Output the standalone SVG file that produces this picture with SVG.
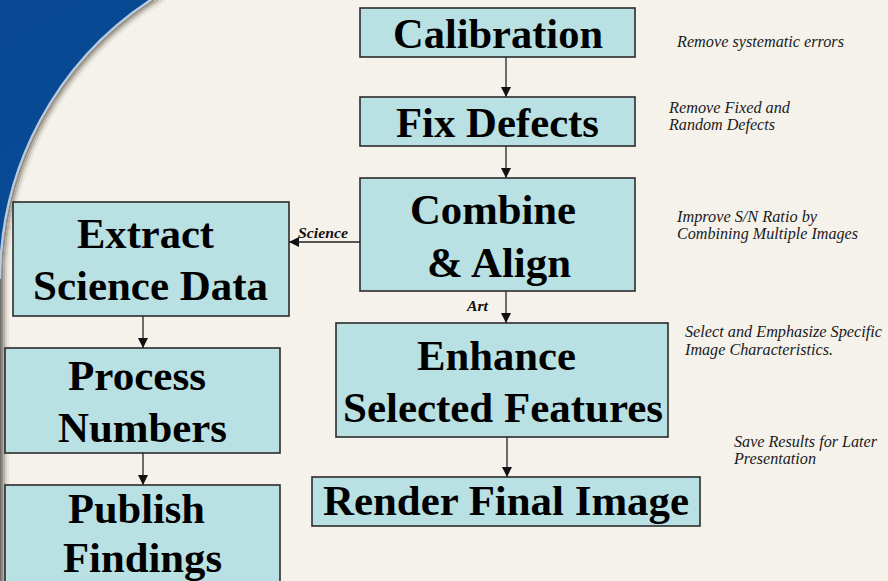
<svg xmlns="http://www.w3.org/2000/svg" width="888" height="581" viewBox="0 0 888 581">
  <defs>
    <marker id="head" markerUnits="userSpaceOnUse" markerWidth="10" markerHeight="10" refX="10" refY="5" orient="auto">
      <path d="M0,0 L10,5 L0,10 z" fill="#111"/>
    </marker>
    <linearGradient id="blueFill" x1="0" y1="0" x2="1" y2="1">
      <stop offset="0" stop-color="#084892"/>
      <stop offset="1" stop-color="#0b53a2"/>
    </linearGradient>
  </defs>

  <!-- backdrop: blue corner, light panel, soft edge shading -->
  <rect x="0" y="0" width="888" height="581" fill="url(#blueFill)"/>
  <path d="M888 0 L150.4 0 A334 334 0 0 0 0 279 L0 581 L888 581 Z" fill="#f5f2ec"/>
  <g fill="none" stroke-width="2.2">
    <path d="M154 0 A332 332 0 0 0 2 279 L2 581" stroke="#958d80"/>
    <path d="M157.8 0 A330 330 0 0 0 4 279 L4 581" stroke="#b3ada1"/>
    <path d="M161.5 0 A328 328 0 0 0 6 279 L6 581" stroke="#d3cfc6"/>
    <path d="M165.4 0 A326 326 0 0 0 8 279 L8 581" stroke="#e9e6df"/>
    <path d="M0 279 L0 581" stroke="#6c6c6c" stroke-width="2.4"/>
    <path d="M150.4 0 A334 334 0 0 0 0 279" stroke="#b4cbe3"/>
  </g>

  <!-- connectors -->
  <g id="connectors" stroke="#222" stroke-width="1.3" fill="none" marker-end="url(#head)">
    <line x1="506" y1="57" x2="506" y2="97"/>
    <line x1="506" y1="146" x2="506" y2="178"/>
    <line x1="506" y1="291" x2="506" y2="323"/>
    <line x1="507" y1="437" x2="507" y2="477"/>
    <line x1="360" y1="242" x2="289" y2="242"/>
    <line x1="143" y1="316" x2="143" y2="348"/>
    <line x1="143" y1="453" x2="143" y2="485"/>
  </g>
  <text x="298" y="238" font-family="Liberation Serif, Tinos, Times New Roman, Nimbus Roman, FreeSerif, DejaVu Serif, serif" font-style="italic" font-weight="bold" font-size="15.5" fill="#111" textLength="50" lengthAdjust="spacingAndGlyphs">Science</text>
  <text x="467" y="311" font-family="Liberation Serif, Tinos, Times New Roman, Nimbus Roman, FreeSerif, DejaVu Serif, serif" font-style="italic" font-weight="bold" font-size="15.5" fill="#111" textLength="21" lengthAdjust="spacingAndGlyphs">Art</text>

  <!-- process steps -->
  <g id="calibration">
    <rect x="360" y="8" width="275" height="49" fill="#b9e0e3" stroke="#2b2b2b" stroke-width="1.6"/>
    <text x="498" y="48" font-family="Liberation Serif, Tinos, Times New Roman, Nimbus Roman, FreeSerif, DejaVu Serif, serif" font-weight="bold" font-size="42" text-anchor="middle" textLength="210" lengthAdjust="spacingAndGlyphs">Calibration</text>
  </g>
  <g id="fix-defects">
    <rect x="360" y="97" width="275" height="49" fill="#b9e0e3" stroke="#2b2b2b" stroke-width="1.6"/>
    <text x="497.5" y="137" font-family="Liberation Serif, Tinos, Times New Roman, Nimbus Roman, FreeSerif, DejaVu Serif, serif" font-weight="bold" font-size="42" text-anchor="middle" textLength="203" lengthAdjust="spacingAndGlyphs">Fix Defects</text>
  </g>
  <g id="combine-align">
    <rect x="360" y="178" width="275" height="113" fill="#b9e0e3" stroke="#2b2b2b" stroke-width="1.6"/>
    <text x="493" y="224" font-family="Liberation Serif, Tinos, Times New Roman, Nimbus Roman, FreeSerif, DejaVu Serif, serif" font-weight="bold" font-size="42" text-anchor="middle" textLength="166" lengthAdjust="spacingAndGlyphs">Combine</text>
    <text x="499" y="277" font-family="Liberation Serif, Tinos, Times New Roman, Nimbus Roman, FreeSerif, DejaVu Serif, serif" font-weight="bold" font-size="42" text-anchor="middle" textLength="144" lengthAdjust="spacingAndGlyphs">&amp; Align</text>
  </g>
  <g id="extract-science">
    <rect x="13" y="202" width="276" height="114" fill="#b9e0e3" stroke="#2b2b2b" stroke-width="1.6"/>
    <text x="145.5" y="248" font-family="Liberation Serif, Tinos, Times New Roman, Nimbus Roman, FreeSerif, DejaVu Serif, serif" font-weight="bold" font-size="42" text-anchor="middle" textLength="137" lengthAdjust="spacingAndGlyphs">Extract</text>
    <text x="150.5" y="300" font-family="Liberation Serif, Tinos, Times New Roman, Nimbus Roman, FreeSerif, DejaVu Serif, serif" font-weight="bold" font-size="42" text-anchor="middle" textLength="235" lengthAdjust="spacingAndGlyphs">Science Data</text>
  </g>
  <g id="process-numbers">
    <rect x="5" y="348" width="275" height="105" fill="#b9e0e3" stroke="#2b2b2b" stroke-width="1.6"/>
    <text x="137" y="390" font-family="Liberation Serif, Tinos, Times New Roman, Nimbus Roman, FreeSerif, DejaVu Serif, serif" font-weight="bold" font-size="42" text-anchor="middle" textLength="138" lengthAdjust="spacingAndGlyphs">Process</text>
    <text x="142.5" y="442" font-family="Liberation Serif, Tinos, Times New Roman, Nimbus Roman, FreeSerif, DejaVu Serif, serif" font-weight="bold" font-size="42" text-anchor="middle" textLength="169" lengthAdjust="spacingAndGlyphs">Numbers</text>
  </g>
  <g id="publish-findings">
    <rect x="5" y="485" width="275" height="110" fill="#b9e0e3" stroke="#2b2b2b" stroke-width="1.6"/>
    <text x="136.5" y="523" font-family="Liberation Serif, Tinos, Times New Roman, Nimbus Roman, FreeSerif, DejaVu Serif, serif" font-weight="bold" font-size="42" text-anchor="middle" textLength="137" lengthAdjust="spacingAndGlyphs">Publish</text>
    <text x="142.5" y="572" font-family="Liberation Serif, Tinos, Times New Roman, Nimbus Roman, FreeSerif, DejaVu Serif, serif" font-weight="bold" font-size="42" text-anchor="middle" textLength="159" lengthAdjust="spacingAndGlyphs">Findings</text>
  </g>
  <g id="enhance-features">
    <rect x="336" y="323" width="332" height="114" fill="#b9e0e3" stroke="#2b2b2b" stroke-width="1.6"/>
    <text x="496.5" y="370" font-family="Liberation Serif, Tinos, Times New Roman, Nimbus Roman, FreeSerif, DejaVu Serif, serif" font-weight="bold" font-size="42" text-anchor="middle" textLength="159" lengthAdjust="spacingAndGlyphs">Enhance</text>
    <text x="503" y="422" font-family="Liberation Serif, Tinos, Times New Roman, Nimbus Roman, FreeSerif, DejaVu Serif, serif" font-weight="bold" font-size="42" text-anchor="middle" textLength="320" lengthAdjust="spacingAndGlyphs">Selected Features</text>
  </g>
  <g id="render-final">
    <rect x="312" y="477" width="388" height="49" fill="#b9e0e3" stroke="#2b2b2b" stroke-width="1.6"/>
    <text x="506" y="515" font-family="Liberation Serif, Tinos, Times New Roman, Nimbus Roman, FreeSerif, DejaVu Serif, serif" font-weight="bold" font-size="42" text-anchor="middle" textLength="366" lengthAdjust="spacingAndGlyphs">Render Final Image</text>
  </g>

  <!-- side notes -->
  <text x="677" y="47" font-family="Liberation Serif, Tinos, Times New Roman, Nimbus Roman, FreeSerif, DejaVu Serif, serif" font-style="italic" font-size="16" fill="#1a1a1a" textLength="167" lengthAdjust="spacingAndGlyphs">Remove systematic errors</text>
  <text x="669" y="113" font-family="Liberation Serif, Tinos, Times New Roman, Nimbus Roman, FreeSerif, DejaVu Serif, serif" font-style="italic" font-size="16" fill="#1a1a1a" textLength="121" lengthAdjust="spacingAndGlyphs">Remove Fixed and</text>
  <text x="669" y="130" font-family="Liberation Serif, Tinos, Times New Roman, Nimbus Roman, FreeSerif, DejaVu Serif, serif" font-style="italic" font-size="16" fill="#1a1a1a" textLength="106" lengthAdjust="spacingAndGlyphs">Random Defects</text>
  <text x="677" y="222" font-family="Liberation Serif, Tinos, Times New Roman, Nimbus Roman, FreeSerif, DejaVu Serif, serif" font-style="italic" font-size="16" fill="#1a1a1a" textLength="140" lengthAdjust="spacingAndGlyphs">Improve S/N Ratio by</text>
  <text x="677" y="239" font-family="Liberation Serif, Tinos, Times New Roman, Nimbus Roman, FreeSerif, DejaVu Serif, serif" font-style="italic" font-size="16" fill="#1a1a1a" textLength="181" lengthAdjust="spacingAndGlyphs">Combining Multiple Images</text>
  <text x="685" y="337" font-family="Liberation Serif, Tinos, Times New Roman, Nimbus Roman, FreeSerif, DejaVu Serif, serif" font-style="italic" font-size="16" fill="#1a1a1a" textLength="197" lengthAdjust="spacingAndGlyphs">Select and Emphasize Specific</text>
  <text x="685" y="355" font-family="Liberation Serif, Tinos, Times New Roman, Nimbus Roman, FreeSerif, DejaVu Serif, serif" font-style="italic" font-size="16" fill="#1a1a1a" textLength="148" lengthAdjust="spacingAndGlyphs">Image Characteristics.</text>
  <text x="734" y="447" font-family="Liberation Serif, Tinos, Times New Roman, Nimbus Roman, FreeSerif, DejaVu Serif, serif" font-style="italic" font-size="16" fill="#1a1a1a" textLength="143" lengthAdjust="spacingAndGlyphs">Save Results for Later</text>
  <text x="734" y="464" font-family="Liberation Serif, Tinos, Times New Roman, Nimbus Roman, FreeSerif, DejaVu Serif, serif" font-style="italic" font-size="16" fill="#1a1a1a" textLength="82" lengthAdjust="spacingAndGlyphs">Presentation</text>
</svg>
